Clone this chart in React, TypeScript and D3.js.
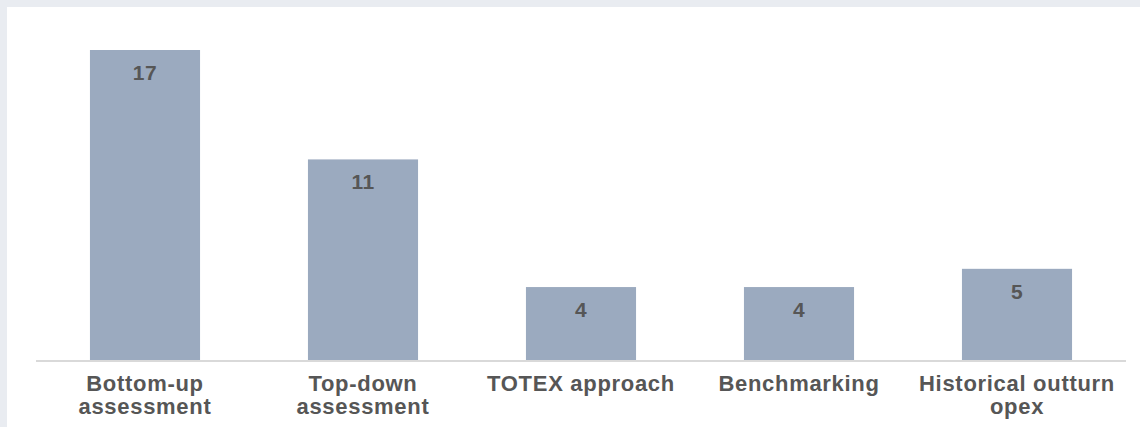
import React from "react";
import * as d3 from "d3";

const categories: string[][] = [
  ["Bottom-up", "assessment"],
  ["Top-down", "assessment"],
  ["TOTEX approach"],
  ["Benchmarking"],
  ["Historical outturn", "opex"],
];
const values: number[] = [17, 11, 4, 4, 5];

const W = 1140;
const H = 427;

export default function App() {
  const keys = categories.map((c) => c.join(" "));
  const x = d3.scaleBand<string>().domain(keys).range([36, 1126]).paddingInner(0.495).paddingOuter(0.2475);
  const y = d3.scaleLinear().domain([0, 17]).range([360, 50]);
  const font = "'Liberation Sans', Arial, sans-serif";
  return (
    <svg width={W} height={H} style={{ position: "absolute", left: 0, top: 0, display: "block" }}>
      <rect x={0} y={0} width={W} height={H} fill="#e9ecf1" />
      <rect x={7} y={7} width={W - 7} height={H - 7} fill="#ffffff" />
      {values.map((v, i) => {
        const k = keys[i];
        const bx = x(k)!;
        return (
          <g key={k}>
            <rect x={bx} y={y(v)} width={x.bandwidth()} height={y(0) - y(v)} fill="#9baabf" />
            <text
              x={bx + x.bandwidth() / 2}
              y={y(v) + 30}
              textAnchor="middle"
              fontFamily={font}
              fontWeight="bold"
              fontSize={21}
              letterSpacing={0.5}
              fill="#565656"
            >
              {v}
            </text>
          </g>
        );
      })}
      <line x1={36} x2={1126} y1={y(0) + 1} y2={y(0) + 1} stroke="#d9d9d9" strokeWidth={2} />
      {categories.map((lines, i) => {
        const cx = x(keys[i])! + x.bandwidth() / 2;
        return (
          <text key={i} textAnchor="middle" fontFamily={font} fontWeight="bold" fontSize={22} letterSpacing={0.7} fill="#565656">
            {lines.map((l, j) => (
              <tspan key={j} x={cx} y={391 + j * 23}>
                {l}
              </tspan>
            ))}
          </text>
        );
      })}
    </svg>
  );
}
